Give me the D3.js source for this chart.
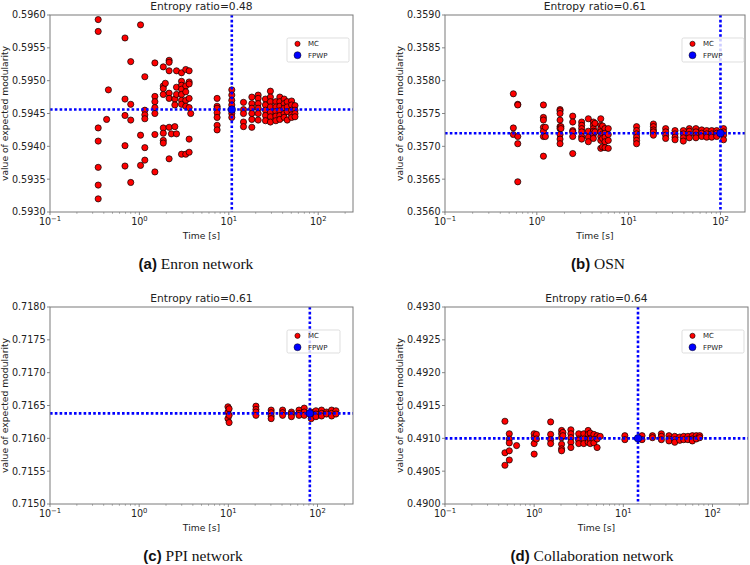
<!DOCTYPE html>
<html><head><meta charset="utf-8">
<script src="https://cdn.jsdelivr.net/npm/d3@7"></script>
<style>body{margin:0;background:#fff}</style>
</head><body><svg id="c" width="750" height="565"></svg>
<script>
// ---------- DATA ----------
const panelTitles = ["Entropy ratio=0.48", "Entropy ratio=0.61", "Entropy ratio=0.61", "Entropy ratio=0.64"];
const captionTags = ["(a)", "(b)", "(c)", "(d)"];
const captionNames = [" Enron network", " OSN", " PPI network", " Collaboration network"];
const yDomains = [[0.5930, 0.5960], [0.3560, 0.3590], [0.7150, 0.7180], [0.4900, 0.4930]];
const xMax = [245, 185, 250, 250];
const legendLabels = ["MC", "FPWP"];
const xTickExps = [-1, 0, 1, 2];

// MC runs: [time (s), [expected modularity values]]
const enronMC = [
  [0.346, [0.59593,0.59575,0.59428,0.59408,0.59368,0.59341,0.59320]],
  [0.43, [0.59441]],
  [0.45, [0.59486]],
  [0.69, [0.59565,0.59472,0.59447,0.59401,0.59370]],
  [0.80, [0.59529,0.59464,0.59440,0.59345]],
  [1.03, [0.59585,0.59417,0.59371]],
  [1.15, [0.59506,0.59455,0.59448,0.59442,0.59398,0.59379]],
  [1.49, [0.59527,0.59476,0.59468,0.59459,0.59450,0.59418,0.59361]],
  [1.85, [0.59521,0.59492,0.59488,0.59479,0.59428,0.59420,0.59409,0.59405]],
  [1.95, [0.59496]],
  [2.15, [0.59531,0.59528,0.59515,0.59481,0.59473,0.59429,0.59381]],
  [2.28, [0.59419]],
  [2.49, [0.59472,0.59463,0.59430]],
  [2.6, [0.59515,0.59490,0.59479,0.59419]],
  [2.96, [0.59512,0.59499,0.59493,0.59487,0.59479,0.59470,0.59464,0.59388]],
  [3.3, [0.59517,0.59492,0.59483,0.59470,0.59461,0.59388]],
  [3.6, [0.59515,0.59498,0.59495,0.59473,0.59459,0.59411,0.59391]],
  [3.75, [0.59450]],
  [7.4, [0.59473,0.59461,0.59458,0.59451,0.59444,0.59432,0.59425]],
  [10.8, [0.59486,0.59478,0.59470,0.59463,0.59450,0.59444]],
  [14.6, [0.59467,0.59456,0.59450,0.59437,0.59430]],
  [18.1, [0.59475,0.59465,0.59458,0.59450,0.59441,0.59429]],
  [21.3, [0.59478,0.59473,0.59465,0.59458,0.59450,0.59440]],
  [25.7, [0.59472,0.59463,0.59455,0.59447,0.59439]],
  [29.2, [0.59484,0.59475,0.59468,0.59460,0.59452,0.59445,0.59437]],
  [33.6, [0.59468,0.59460,0.59453,0.59446,0.59439]],
  [37.2, [0.59475,0.59468,0.59461,0.59454,0.59447,0.59441]],
  [41.6, [0.59472,0.59465,0.59458,0.59450,0.59444]],
  [45.0, [0.59468,0.59460,0.59453,0.59440]],
  [50.4, [0.59469,0.59463,0.59455,0.59448,0.59444]],
  [55.0, [0.59462,0.59455,0.59450,0.59445]]
];
const osnMC = [
  [0.555, [0.35780,0.35728,0.35718]],
  [0.62, [0.35764,0.35763,0.35715,0.35704,0.35646]],
  [1.18, [0.35763,0.35744,0.35740,0.35729,0.35723,0.35715,0.35685]],
  [1.24, [0.35729,0.35715]],
  [1.79, [0.35756,0.35754,0.35750,0.35740,0.35730,0.35727,0.35718,0.35711,0.35704]],
  [1.83, [0.35730,0.35727]],
  [2.46, [0.35746,0.35737,0.35724,0.35722,0.35715,0.35689]],
  [3.08, [0.35737,0.35732,0.35727,0.35722,0.35715,0.35711]],
  [3.64, [0.35742,0.35723,0.35714,0.35707]],
  [4.13, [0.35737,0.35732,0.35727,0.35723,0.35718,0.35712]],
  [4.3, [0.35735,0.35722]],
  [4.97, [0.35742,0.35732,0.35727,0.35722,0.35715,0.35709,0.35697]],
  [5.2, [0.35731,0.35719,0.35712,0.35699]],
  [5.53, [0.35727,0.35720,0.35714,0.35707,0.35698]],
  [6.0, [0.35727,0.35718,0.35709,0.35697]],
  [12.2, [0.35730,0.35724,0.35719,0.35714,0.35709,0.35704]],
  [18.6, [0.35734,0.35730,0.35725,0.35722,0.35717]],
  [25.3, [0.35727,0.35722,0.35717,0.35712]],
  [32, [0.35724,0.35719,0.35714,0.35710]],
  [39.4, [0.35724,0.35719,0.35713,0.35708]],
  [45.8, [0.35727,0.35723,0.35718,0.35713]],
  [54, [0.35727,0.35722,0.35717,0.35713]],
  [62.5, [0.35725,0.35720,0.35715]],
  [70.8, [0.35724,0.35719,0.35714]],
  [80.3, [0.35724,0.35719,0.35714]],
  [91, [0.35724,0.35720,0.35715]],
  [108, [0.35727,0.35722,0.35717,0.35710]]
];
const ppiMC = [
  [9.9, [0.71648,0.71640,0.71630]],
  [10.2, [0.71645,0.71635,0.71624]],
  [20.4, [0.71649,0.71644,0.71640,0.71635]],
  [30.2, [0.71643,0.71639,0.71634,0.71630]],
  [40.6, [0.71643,0.71639,0.71635]],
  [51, [0.71640,0.71637,0.71633]],
  [62, [0.71643,0.71638,0.71635]],
  [71, [0.71646,0.71640,0.71635]],
  [85, [0.71640,0.71635,0.71630]],
  [96, [0.71642,0.71637,0.71633]],
  [111, [0.71643,0.71638,0.71634]],
  [126, [0.71640,0.71637]],
  [144, [0.71643,0.71638,0.71634]],
  [161, [0.71642,0.71637]]
];
const collabMC = [
  [0.47, [0.49126,0.49078,0.49059]],
  [0.526, [0.49107,0.49099,0.49093,0.49081,0.49067]],
  [0.635, [0.49089]],
  [1.0, [0.49107,0.49101,0.49092,0.49076]],
  [1.06, [0.49106,0.49099]],
  [1.53, [0.49125,0.49106,0.49098,0.49092]],
  [2.03, [0.49112,0.49107,0.49101,0.49091,0.49084,0.49081]],
  [2.1, [0.49109,0.49104]],
  [2.58, [0.49113,0.49107,0.49101,0.49094,0.49086]],
  [3.16, [0.49107,0.49099,0.49097,0.49092]],
  [3.6, [0.49107,0.49099,0.49092]],
  [4.03, [0.49112,0.49106,0.49099,0.49094]],
  [4.25, [0.49108,0.49099,0.49092]],
  [4.67, [0.49106,0.49098,0.49093]],
  [5.08, [0.49104,0.49099,0.49086]],
  [5.5, [0.49103]],
  [10.4, [0.49104,0.49098]],
  [16.2, [0.49104,0.49098]],
  [21.2, [0.49104,0.49101]],
  [26.7, [0.49107,0.49103,0.49098]],
  [32.5, [0.49104,0.49099,0.49096]],
  [37.7, [0.49103,0.49098,0.49094]],
  [42.9, [0.49102,0.49097]],
  [47.5, [0.49103,0.49098]],
  [53, [0.49103,0.49098]],
  [59.4, [0.49104,0.49099,0.49096]],
  [65.8, [0.49104,0.49099]],
  [71.8, [0.49104,0.49101]]
];
// FPWP result: [time (s), value]
const fpwpPoints = [[10.8, 0.59456], [100, 0.35720], [82, 0.71638], [14.6, 0.49100]];
const mcSets = [enronMC, osnMC, ppiMC, collabMC];

// ---------- LAYOUT ----------
const boxes = [
  {l: 50, t: 15, r: 353, b: 212, cx: 196, cy: 269, lg: {x: 287, y: 38, w: 62, h: 24}},
  {l: 445, t: 15, r: 745, b: 212, cx: 598, cy: 269, lg: {x: 682, y: 38, w: 62, h: 24}},
  {l: 50, t: 307, r: 353, b: 504, cx: 193, cy: 561, lg: {x: 287, y: 330, w: 53, h: 23}},
  {l: 445, t: 307, r: 748, b: 504, cx: 592, cy: 561, lg: {x: 682, y: 330, w: 62, h: 23}}
];
const svg = d3.select('#c');
const FONT = "DejaVu Sans, sans-serif";
const BLUE = "#0000ff", RED = "#ff0000";

boxes.forEach((bx, i) => {
  const g = svg.append('g');
  const x = d3.scaleLog().domain([0.1, xMax[i]]).range([bx.l, bx.r]);
  const y = d3.scaleLinear().domain(yDomains[i]).range([bx.b, bx.t]);

  // y ticks
  const yt = d3.range(0, 7).map(k => yDomains[i][0] + k * 0.0005);
  yt.forEach(v => {
    g.append('line').attr('x1', bx.l - 3).attr('x2', bx.l).attr('y1', y(v)).attr('y2', y(v))
      .attr('stroke', '#555').attr('stroke-width', 0.7);
    g.append('text').attr('x', bx.l - 4.5).attr('y', y(v) + 3.4).attr('text-anchor', 'end')
      .attr('font-family', FONT).attr('font-size', 9.6).attr('fill', '#222').text(v.toFixed(4));
  });
  // x major ticks
  xTickExps.forEach(e => {
    const px = x(Math.pow(10, e));
    g.append('line').attr('x1', px).attr('x2', px).attr('y1', bx.b).attr('y2', bx.b + 3)
      .attr('stroke', '#555').attr('stroke-width', 0.7);
    const t = g.append('text').attr('x', px).attr('y', bx.b + 12.5).attr('text-anchor', 'middle')
      .attr('font-family', FONT).attr('font-size', 9.6).attr('fill', '#222');
    t.append('tspan').text('10');
    t.append('tspan').attr('dy', -4).attr('font-size', 6.8).text(e < 0 ? '\u2212' + (-e) : String(e));
  });
  // x minor ticks
  for (let e = -1; e <= 2; e++) {
    for (let k = 2; k <= 9; k++) {
      const v = k * Math.pow(10, e);
      if (v > xMax[i]) continue;
      g.append('line').attr('x1', x(v)).attr('x2', x(v)).attr('y1', bx.b).attr('y2', bx.b + 1.8)
        .attr('stroke', '#555').attr('stroke-width', 0.5);
    }
  }
  // MC points
  const pts = [];
  mcSets[i].forEach(([t, vals]) => vals.forEach(v => pts.push([t, v])));
  g.append('g').selectAll('circle').data(pts).join('circle')
    .attr('cx', d => x(d[0])).attr('cy', d => y(d[1])).attr('r', 3.1)
    .attr('fill', RED).attr('stroke', '#000').attr('stroke-width', 0.7);

  // dotted reference lines
  const [ft, fv] = fpwpPoints[i];
  g.append('line').attr('x1', bx.l).attr('x2', bx.r).attr('y1', y(fv)).attr('y2', y(fv))
    .attr('stroke', BLUE).attr('stroke-width', 2.6).attr('stroke-dasharray', '2.6,2.2');
  g.append('line').attr('x1', x(ft)).attr('x2', x(ft)).attr('y1', bx.t).attr('y2', bx.b)
    .attr('stroke', BLUE).attr('stroke-width', 2.6).attr('stroke-dasharray', '2.6,2.2');
  // FPWP point
  g.append('circle').attr('cx', x(ft)).attr('cy', y(fv)).attr('r', 3.8)
    .attr('fill', BLUE).attr('stroke', '#000').attr('stroke-width', 0.5);

  // frame
  g.append('rect').attr('x', bx.l).attr('y', bx.t).attr('width', bx.r - bx.l).attr('height', bx.b - bx.t)
    .attr('fill', 'none').attr('stroke', '#7a7a7a').attr('stroke-width', 1);

  // legend
  const lg = bx.lg;
  g.append('rect').attr('x', lg.x).attr('y', lg.y).attr('width', lg.w).attr('height', lg.h)
    .attr('rx', 1.5).attr('fill', '#fff').attr('fill-opacity', 0.8)
    .attr('stroke', '#d0d0d0').attr('stroke-width', 0.7);
  const rows = [lg.y + 5.8, lg.y + 17.2];
  g.append('circle').attr('cx', lg.x + 10.5).attr('cy', rows[0]).attr('r', 2.6)
    .attr('fill', RED).attr('stroke', '#000').attr('stroke-width', 0.6);
  g.append('circle').attr('cx', lg.x + 10.5).attr('cy', rows[1]).attr('r', 3.5)
    .attr('fill', BLUE).attr('stroke', '#000').attr('stroke-width', 0.5);
  legendLabels.forEach((lab, k) => {
    g.append('text').attr('x', lg.x + 21).attr('y', rows[k] + 2.5)
      .attr('font-family', FONT).attr('font-size', 7).attr('fill', '#222').text(lab);
  });

  // title
  g.append('text').attr('x', (bx.l + bx.r) / 2).attr('y', bx.t - 5).attr('text-anchor', 'middle')
    .attr('font-family', FONT).attr('font-size', 10.7).attr('fill', '#222').text(panelTitles[i]);
  // x label
  g.append('text').attr('x', (bx.l + bx.r) / 2).attr('y', bx.b + 27).attr('text-anchor', 'middle')
    .attr('font-family', FONT).attr('font-size', 9.2).attr('fill', '#222').text('Time [s]');
  // y label
  g.append('text').attr('transform', `translate(${bx.l - 42.5},${(bx.t + bx.b) / 2}) rotate(-90)`)
    .attr('text-anchor', 'middle').attr('font-family', FONT).attr('font-size', 9.2).attr('fill', '#222')
    .text('value of expected modularity');
  // caption
  const cap = svg.append('text').attr('x', bx.cx).attr('y', bx.cy).attr('text-anchor', 'middle')
    .attr('fill', '#111');
  cap.append('tspan').attr('font-family', 'Liberation Sans, Arial, sans-serif').attr('font-weight', 'bold')
    .attr('font-size', 15).text(captionTags[i]);
  cap.append('tspan').attr('font-family', 'Liberation Serif, Times New Roman, serif')
    .attr('font-size', 15.5).text(captionNames[i]);
});
</script></body></html>
